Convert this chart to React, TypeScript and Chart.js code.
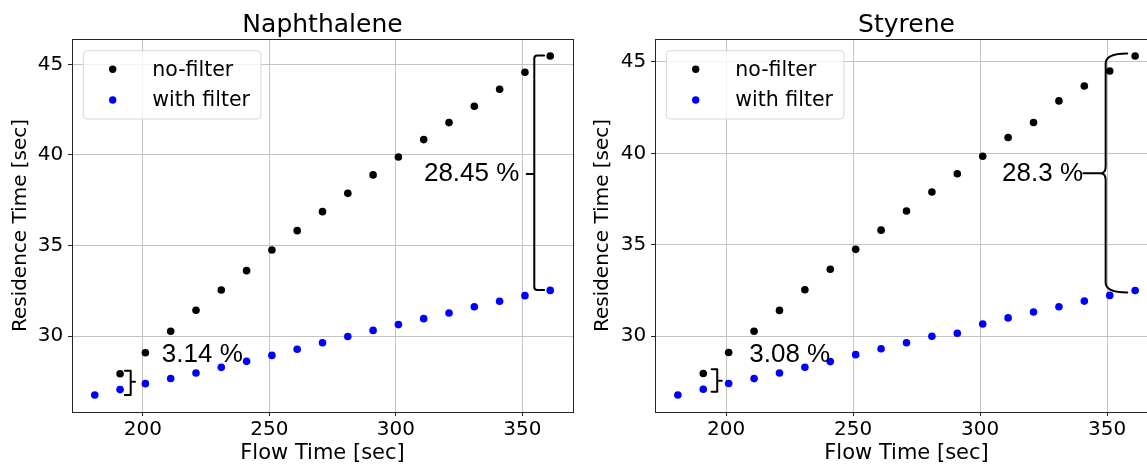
import React, { useEffect, useRef } from 'react';
import { Chart, registerables } from 'chart.js';

Chart.register(...registerables);

// ---------- data ----------
const FLOW_WITH_FILTER = [181, 191, 201, 211, 221, 231, 241, 251, 261, 271, 281, 291, 301, 311, 321, 331, 341, 351, 361];
const FLOW_NO_FILTER = [191, 201, 211, 221, 231, 241, 251, 261, 271, 281, 291, 301, 311, 321, 331, 341, 351, 361];

const NAPH_NO_FILTER = [27.92, 29.08, 30.26, 31.42, 32.54, 33.61, 34.75, 35.82, 36.87, 37.88, 38.9, 39.89, 40.85, 41.79, 42.69, 43.63, 44.57, 45.47];
const NAPH_WITH_FILTER = [26.74, 27.04, 27.37, 27.65, 27.96, 28.27, 28.6, 28.93, 29.27, 29.63, 29.97, 30.31, 30.63, 30.96, 31.27, 31.62, 31.92, 32.23, 32.52];

const STY_NO_FILTER = [27.96, 29.11, 30.27, 31.41, 32.54, 33.66, 34.75, 35.8, 36.85, 37.89, 38.89, 39.84, 40.87, 41.69, 42.87, 43.69, 44.51, 45.33];
const STY_WITH_FILTER = [26.78, 27.1, 27.41, 27.68, 27.99, 28.3, 28.61, 28.99, 29.31, 29.64, 30.0, 30.16, 30.67, 31.0, 31.32, 31.61, 31.92, 32.23, 32.5];

const X_TICKS = [200, 250, 300, 350];
const Y_TICKS = [30, 35, 40, 45];
const SERIES_LABELS = ['no-filter', 'with filter'];
const TITLES = ['Naphthalene', 'Styrene'];
const NAPH_PCT = ['28.45 %', '3.14 %'];
const STY_PCT = ['28.3 %', '3.08 %'];

// annotation anchors in data coordinates
const NAPH_BIG = { x: 354.7, hookX: 358.6, tickX: 351.7, top: 45.5, bottom: 32.54, mid: 38.95, textX: 348.8, textY: 38.95 };
const NAPH_SMALL = { x: 195.2, hookX: 192.9, tickX: 196.9, top: 28.08, bottom: 26.74, mid: 27.48, textX: 207.5, textY: 28.95 };
const STY_BIG = { x: 349.4, hookX: 357.9, tickX: 340.6, top: 45.3, bottom: 32.55, mid: 38.91, textX: 340.5, textY: 38.87 };
const STY_SMALL = { x: 196.5, hookX: 194.3, tickX: 198.3, top: 28.19, bottom: 26.96, mid: 27.56, textX: 209.1, textY: 28.97 };

const BLACK = '#000000';
const BLUE = '#0000ff';
const MPL_FONT = '"DejaVu Sans", sans-serif';
const ANN_FONT = '"Liberation Sans", Arial, sans-serif';

function paddedRange(values: number[], frac = 0.05): [number, number] {
  const mn = Math.min(...values);
  const mx = Math.max(...values);
  const m = (mx - mn) * frac;
  return [mn - m, mx + m];
}

type Ann = typeof NAPH_BIG;

interface PanelProps {
  title: string;
  noFilter: number[];
  withFilter: number[];
  pct: string[];
  big: Ann;
  small: Ann;
  curly: boolean;
  left: number;
  width: number;
  axisWidth: number;
  padRight: number;
  yTitlePad: number;
}

function Panel(p: PanelProps) {
  const ref = useRef<HTMLCanvasElement | null>(null);

  useEffect(() => {
    const canvas = ref.current;
    if (!canvas) return;
    const [xMin, xMax] = paddedRange(FLOW_WITH_FILTER);
    const [yMin, yMax] = paddedRange([...p.noFilter, ...p.withFilter]);

    const overlay = {
      id: 'overlay',
      afterDatasetsDraw(chart: any) {
        const ctx = chart.ctx as CanvasRenderingContext2D;
        const xs = chart.scales.x;
        const ys = chart.scales.y;
        const X = (v: number) => xs.getPixelForValue(v);
        const Y = (v: number) => ys.getPixelForValue(v);
        ctx.save();
        ctx.strokeStyle = '#000';
        ctx.lineWidth = 2;
        ctx.lineJoin = 'round';
        ctx.lineCap = 'round';
        // big bracket
        const b = p.big;
        const vx = X(b.x), hx = X(b.hookX), tx = X(b.tickX);
        const yt = Y(b.top), yb = Y(b.bottom), ym = Y(b.mid);
        ctx.beginPath();
        if (!p.curly) {
          const r = 3;
          ctx.moveTo(hx, yt);
          ctx.lineTo(vx + r, yt);
          ctx.quadraticCurveTo(vx, yt, vx, yt + r);
          ctx.lineTo(vx, yb - r);
          ctx.quadraticCurveTo(vx, yb, vx + r, yb);
          ctx.lineTo(hx, yb);
          ctx.moveTo(vx, ym);
          ctx.lineTo(tx, ym);
        } else {
          const c = 7;
          ctx.moveTo(hx, yt - 3);
          ctx.quadraticCurveTo(vx, yt - 3, vx, yt + c);
          ctx.lineTo(vx, ym - c);
          ctx.quadraticCurveTo(vx, ym, vx - 5, ym);
          ctx.quadraticCurveTo(vx, ym, vx, ym + c);
          ctx.lineTo(vx, yb - c);
          ctx.quadraticCurveTo(vx, yb + 3, hx, yb + 3);
          ctx.moveTo(vx - 5, ym);
          ctx.lineTo(tx, ym);
        }
        ctx.stroke();
        // small brace
        const s = p.small;
        const sx = X(s.x), shx = X(s.hookX), stx = X(s.tickX);
        const st = Y(s.top), sb = Y(s.bottom), sm = Y(s.mid);
        ctx.beginPath();
        ctx.moveTo(shx, st);
        ctx.lineTo(sx, st);
        ctx.lineTo(sx, sb);
        ctx.lineTo(shx, sb);
        ctx.moveTo(sx, sm);
        ctx.lineTo(stx, sm);
        ctx.stroke();
        // texts
        ctx.fillStyle = '#000';
        ctx.font = `26px ${ANN_FONT}`;
        ctx.textBaseline = 'middle';
        ctx.textAlign = 'right';
        ctx.fillText(p.pct[0], X(b.textX), Y(b.textY));
        ctx.textAlign = 'left';
        ctx.fillText(p.pct[1], X(s.textX), Y(s.textY));
        ctx.restore();
      },
      afterDraw(chart: any) {
        const ctx = chart.ctx as CanvasRenderingContext2D;
        const a = chart.chartArea;
        ctx.save();
        // title centred over the plot area
        ctx.fillStyle = '#000';
        ctx.font = `25px ${MPL_FONT}`;
        ctx.textAlign = 'center';
        ctx.textBaseline = 'alphabetic';
        ctx.fillText(p.title, (a.left + a.right) / 2, 32);
        // frame
        ctx.strokeStyle = '#262626';
        ctx.lineWidth = 1;
        ctx.strokeRect(Math.round(a.left) + 0.5, Math.round(a.top) + 0.5, Math.round(a.right - a.left), Math.round(a.bottom - a.top));
        // legend
        const lx = a.left + 11.3, ly = a.top + 11.7, lw = 177.7, lh = 68.3, r = 4;
        ctx.beginPath();
        ctx.moveTo(lx + r, ly);
        ctx.lineTo(lx + lw - r, ly);
        ctx.quadraticCurveTo(lx + lw, ly, lx + lw, ly + r);
        ctx.lineTo(lx + lw, ly + lh - r);
        ctx.quadraticCurveTo(lx + lw, ly + lh, lx + lw - r, ly + lh);
        ctx.lineTo(lx + r, ly + lh);
        ctx.quadraticCurveTo(lx, ly + lh, lx, ly + lh - r);
        ctx.lineTo(lx, ly + r);
        ctx.quadraticCurveTo(lx, ly, lx + r, ly);
        ctx.closePath();
        ctx.fillStyle = 'rgba(255,255,255,0.8)';
        ctx.fill();
        ctx.strokeStyle = '#d6d6d6';
        ctx.stroke();
        const colors = [BLACK, BLUE];
        const rows = [30.3, 61];
        ctx.font = `20.5px ${MPL_FONT}`;
        ctx.textBaseline = 'middle';
        ctx.textAlign = 'left';
        SERIES_LABELS.forEach((lab, i) => {
          const yy = a.top + rows[i];
          ctx.beginPath();
          ctx.arc(a.left + 40.7, yy, 3.7, 0, Math.PI * 2);
          ctx.fillStyle = colors[i];
          ctx.fill();
          ctx.fillStyle = '#000';
          ctx.fillText(lab, a.left + 80.3, yy + 1);
        });
        ctx.restore();
      },
    };

    const chart = new Chart(canvas, {
      type: 'scatter',
      data: {
        datasets: [
          {
            label: SERIES_LABELS[0],
            data: FLOW_NO_FILTER.map((x, i) => ({ x, y: p.noFilter[i] })),
            backgroundColor: BLACK,
            borderWidth: 0,
            pointRadius: 3.8,
          },
          {
            label: SERIES_LABELS[1],
            data: FLOW_WITH_FILTER.map((x, i) => ({ x, y: p.withFilter[i] })),
            backgroundColor: BLUE,
            borderWidth: 0,
            pointRadius: 3.8,
          },
        ],
      },
      options: {
        animation: false,
        responsive: false,
        maintainAspectRatio: false,
        devicePixelRatio: 1,
        layout: { padding: { left: 0, right: p.padRight, top: 39, bottom: 0 } },
        plugins: {
          legend: { display: false },
          tooltip: { enabled: false },
          title: { display: false },
        },
        scales: {
          x: {
            type: 'linear',
            min: xMin,
            max: xMax,
            afterBuildTicks: (sc: any) => { sc.ticks = X_TICKS.map((v) => ({ value: v })); },
            afterFit: (sc: any) => { sc.height = 53; },
            ticks: { color: '#000', font: { family: MPL_FONT, size: 20, lineHeight: 1.2 }, padding: 1.5, maxRotation: 0 },
            grid: { color: '#c4c4c4', lineWidth: 1, tickLength: 4, tickColor: '#262626', drawTicks: true },
            border: { display: false },
            title: {
              display: true,
              text: 'Flow Time [sec]',
              color: '#000',
              font: { family: MPL_FONT, size: 21, lineHeight: 1 },
              padding: { top: 0, bottom: 0.7 },
            },
          },
          y: {
            type: 'linear',
            min: yMin,
            max: yMax,
            afterBuildTicks: (sc: any) => { sc.ticks = Y_TICKS.map((v) => ({ value: v })); },
            afterFit: (sc: any) => { sc.width = p.axisWidth; },
            ticks: { color: '#000', font: { family: MPL_FONT, size: 20 }, padding: 4.7 },
            grid: { color: '#c4c4c4', lineWidth: 1, tickLength: 4, tickColor: '#262626', drawTicks: true },
            border: { display: false },
            title: {
              display: true,
              text: 'Residence Time [sec]',
              color: '#000',
              font: { family: MPL_FONT, size: 20, lineHeight: 1.2 },
              padding: { top: p.yTitlePad, bottom: 0 },
            },
          },
        },
      },
      plugins: [overlay],
    } as any);

    return () => chart.destroy();
  }, []);

  return (
    <div style={{ position: 'absolute', left: p.left, top: 0, width: p.width, height: 465 }}>
      <canvas ref={ref} width={p.width} height={465} style={{ width: p.width, height: 465, display: 'block' }} />
    </div>
  );
}

export default function App() {
  return (
    <div style={{ position: 'fixed', left: 0, top: 0, width: 1147, height: 465, overflow: 'hidden', background: '#fff' }}>
      <Panel
        title={TITLES[0]}
        noFilter={NAPH_NO_FILTER}
        withFilter={NAPH_WITH_FILTER}
        pct={NAPH_PCT}
        big={NAPH_BIG}
        small={NAPH_SMALL}
        curly={false}
        left={0}
        width={590}
        axisWidth={72}
        padRight={17}
        yTitlePad={8.6}
      />
      <Panel
        title={TITLES[1]}
        noFilter={STY_NO_FILTER}
        withFilter={STY_WITH_FILTER}
        pct={STY_PCT}
        big={STY_BIG}
        small={STY_SMALL}
        curly={true}
        left={590}
        width={590}
        axisWidth={65}
        padRight={22}
        yTitlePad={1.2}
      />
    </div>
  );
}
